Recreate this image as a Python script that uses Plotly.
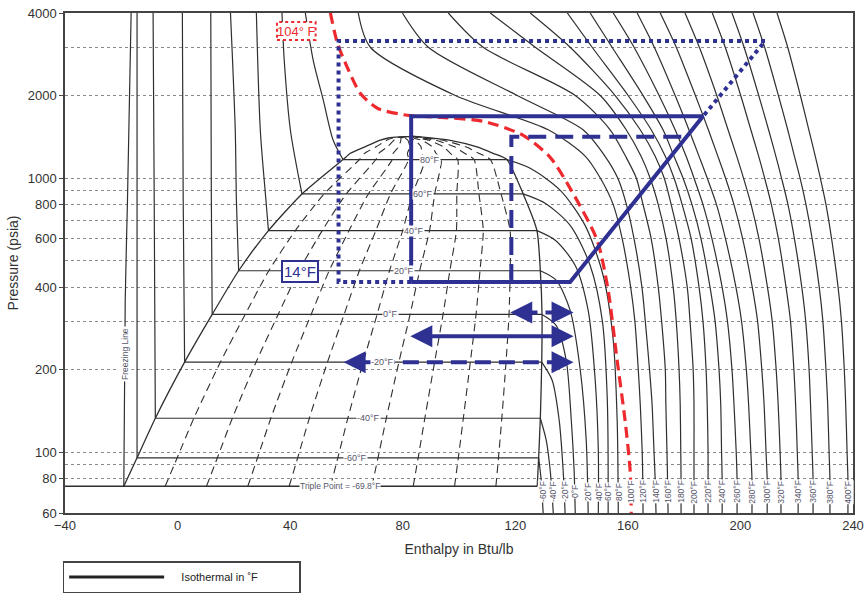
import numpy as np
import plotly.graph_objects as go

NAVY = "#2e3192"
RED = "#ee2a2f"
INK = "#2f2f2f"
TXT = "#55566a"

# Saturation dome: pressure (psia) with saturated-liquid / saturated-vapour enthalpy (Btu/lb)
sat_p = [75.1, 95.4, 133, 213, 318, 459, 643, 875, 1168, 1231, 1300, 1373, 1400, 1420]
sat_h_liq = [-19.1, -14.4, -7.9, 2.5, 12.3, 21.7, 32.3, 44.2, 58.8, 61.4, 66.6, 71.8, 74.9, 83.7]
sat_h_vap = [127.8, 128.3, 128.9, 129.4, 129.5, 128.9, 127.7, 122.8, 117.0, 112.1, 106.4, 96.9, 90.0, 83.7]

# Labels of the constant-temperature lines crossing the two-phase region
sat_line_text = ["Triple Point = -69.8°F", "-60°F", "-40°F", "-20°F", "0°F",
                 "20°F", "40°F", "60°F", "80°F"]
sat_line_text_h = [57.8, 63.2, 67.9, 72.7, 75.6, 80.5, 83.9, 87.2, 89.8]

# Constant-quality lines inside the dome
qualities = [0.1, 0.2, 0.3, 0.4, 0.5, 0.6, 0.7, 0.8, 0.9]

# Freezing line
freeze_h = [-19.1, -18.6, -17.8, -16.5]
freeze_p = [75.1, 358, 830, 4000]

# Compressed-liquid isotherms: (enthalpy, pressure) from the liquid line up to 4000 psia
liquid_iso = {
    -60: ([-14.4, -14.4], [95.4, 4000]),
    -40: ([-7.9, -8.3, -8.7], [133, 830, 4000]),
    -20: ([2.5, 2.0, 1.7], [213, 830, 4000]),
    0: ([12.3, 12.0, 11.8], [318, 830, 4000]),
    20: ([21.7, 20.9, 20.5, 18.8], [459, 830, 1494, 4000]),
    40: ([32.3, 31.4, 29.4, 28.0], [643, 830, 1494, 4000]),
    60: ([44.2, 40.1, 37.9, 37.1], [875, 1494, 2688, 4000]),
    80: ([58.8, 55.3, 51.8, 48.2, 45.4], [1168, 1373, 1921, 2688, 4000]),
}

# Superheated-vapour isotherms: from the vapour line down to 60 psia
vapour_iso = {
    -60: ([128.3, 129.2, 129.9], [95.4, 79, 60]),
    -40: ([128.9, 131.0, 132.4, 133.5], [133, 110.5, 85.9, 60]),
    -20: ([129.4, 133.1, 135.6, 137.0, 137.7], [213, 182.9, 130.7, 85.9, 60]),
    0: ([129.5, 134.5, 138.1, 139.9, 140.9, 141.3], [318, 290, 216, 130.7, 85.9, 60]),
    20: ([128.9, 134.5, 139.5, 143.1, 145.2, 145.9], [459, 424, 329, 199, 110.5, 60]),
    40: ([127.7, 134.2, 141.3, 145.9, 148.4, 149.5, 149.5], [643, 593, 480, 329, 183, 101.6, 60]),
    60: ([122.8, 130.6, 139.5, 146.6, 150.9, 152.7, 153.0], [875, 809, 672, 480, 303, 155, 60]),
    80: ([117.0, 125.3, 136.0, 144.8, 151.2, 154.8, 156.2, 156.6],
         [1168, 1085, 902, 672, 442, 256, 131, 60]),
}

# Supercritical isotherms: enthalpy at each of these pressure levels
grid_p = [4000, 3000, 2000, 1500, 1200, 1000, 800, 600, 400, 300, 200, 150, 100, 80, 60]
super_iso = {
    120: [64.2, 68.5, 98.7, 131.7, 144.9, 150.2, 154.8, 158.0, 161.0, 162.5, 163.7, 164.4, 165.1, 165.3, 165.4],
    140: [79.9, 89.1, 120.7, 144.1, 151.9, 156.4, 159.5, 162.2, 165.0, 166.2, 167.7, 168.6, 169.3, 169.7, 170.0],
    160: [96.2, 108.6, 141.3, 153.7, 159.2, 163.0, 165.4, 168.3, 170.8, 172.0, 173.3, 173.5, 173.9, 174.1, 174.3],
    180: [111.1, 127.1, 150.2, 159.4, 164.7, 167.9, 170.8, 173.6, 176.1, 177.2, 178.2, 178.6, 178.8, 178.9, 178.9],
    200: [125.3, 139.5, 155.5, 164.4, 169.7, 172.9, 175.4, 178.2, 181.1, 182.1, 183.2, 183.5, 183.5, 183.5, 183.5],
    220: [138.5, 147.3, 160.1, 168.3, 173.3, 176.4, 179.3, 182.5, 185.3, 186.7, 187.8, 188.2, 188.5, 188.5, 188.5],
    240: [146.6, 154.4, 165.4, 172.5, 176.4, 179.6, 182.8, 186.0, 189.2, 191.0, 192.4, 193.0, 193.3, 193.5, 193.5],
    260: [154.8, 162.2, 171.1, 176.8, 180.7, 183.5, 186.7, 189.9, 193.5, 195.4, 197.0, 197.7, 198.5, 198.8, 198.8],
    280: [163.3, 169.4, 176.8, 181.7, 185.3, 188.2, 191.5, 194.7, 198.4, 200.4, 202.1, 202.9, 203.7, 204.1, 204.1],
    300: [171.5, 177.2, 184.0, 188.6, 192.0, 194.7, 197.7, 200.8, 204.2, 206.1, 207.6, 208.4, 209.1, 209.5, 209.5],
    320: [180.3, 185.4, 191.6, 195.6, 198.7, 201.1, 203.8, 206.6, 209.6, 211.3, 212.7, 213.4, 214.1, 214.4, 214.4],
    340: [190.0, 194.6, 200.1, 203.7, 206.5, 208.6, 211.0, 213.5, 216.2, 217.8, 219.0, 219.6, 220.2, 220.5, 220.5],
    360: [197.0, 201.3, 206.5, 210.0, 212.6, 214.6, 216.9, 219.2, 221.8, 223.2, 224.4, 224.9, 225.5, 225.8, 225.8],
    380: [204.5, 208.6, 213.5, 216.8, 219.2, 221.2, 223.3, 225.5, 228.0, 229.3, 230.4, 231.0, 231.5, 231.8, 231.8],
    400: [213.0, 216.8, 221.3, 224.3, 226.6, 228.4, 230.4, 232.4, 234.7, 235.9, 236.9, 237.4, 237.9, 238.2, 238.2],
}

# Highlighted 104 °F isotherm
iso104_h = [54.3, 56.8, 60.3, 64.9, 71.0, 81.6, 93.3, 108.6, 122.8, 132.4, 139.9,
            149.1, 153.0, 156.2, 159.0, 160.8, 161.2]
iso104_p = [4000, 3101, 2535, 2038, 1797, 1694, 1666, 1611, 1432, 1190, 902,
            593, 390, 216, 131, 86, 60]

# Refrigeration cycles
cycle_solid_h = [83.0, 83.0, 186.7, 139.5, 83.0]
cycle_solid_p = [418, 1679, 1679, 418, 418]
cycle_dash_h = [118.6, 118.6, 180.9]
cycle_dash_p = [418, 1414, 1414]
cycle_dot_h = [83.0, 57.2, 57.2, 208.8, 186.7]
cycle_dot_p = [418, 418, 3162, 3162, 1679]

# Evaporator enthalpy-gain arrows
arrow_h_start = [118.2, 82.7, 59.0]
arrow_h_end = [140.7, 140.7, 140.7]
arrow_p = [323, 265, 213]
arrow_style = ["dash", "solid", "dash"]

# Temperatures written along the bottom of the chart
bottom_temps = [-60, -40, -20, 0, 20, 40, 60, 80, 100, 120, 140, 160, 180, 200,
                220, 240, 260, 280, 300, 320, 340, 360, 380, 400]

fig = go.Figure()


def iso_line(h, p):
    fig.add_trace(go.Scatter(x=h, y=p, mode="lines", hoverinfo="skip", showlegend=False,
                             line=dict(color=INK, width=1.2, shape="spline", smoothing=0.8)))


# triple-point line from the left frame to the vapour line
fig.add_trace(go.Scatter(x=[-40, sat_h_vap[0]], y=[sat_p[0], sat_p[0]], mode="lines",
                         hoverinfo="skip", showlegend=False, line=dict(color=INK, width=1.3)))
# two-phase isotherms
for i in range(1, 9):
    fig.add_trace(go.Scatter(x=[sat_h_liq[i], sat_h_vap[i]], y=[sat_p[i], sat_p[i]], mode="lines",
                             hoverinfo="skip", showlegend=False, line=dict(color=INK, width=1.2)))
# freezing line and single-phase isotherms
iso_line(freeze_h, freeze_p)
for t, (h, p) in liquid_iso.items():
    iso_line(h, p)
for t, (h, p) in vapour_iso.items():
    iso_line(h, p)
for t, h in super_iso.items():
    iso_line(h, grid_p)

# constant-quality lines
for q in qualities:
    qh = [hl + q * (hv - hl) for hl, hv in zip(sat_h_liq, sat_h_vap)]
    fig.add_trace(go.Scatter(x=qh, y=sat_p, mode="lines", hoverinfo="skip", showlegend=False,
                             line=dict(color=INK, width=1.1, dash="8px,5px", shape="spline",
                                       smoothing=0.6)))

# saturation dome
fig.add_trace(go.Scatter(x=sat_h_liq + sat_h_vap[::-1][1:], y=sat_p + sat_p[::-1][1:],
                         mode="lines", hoverinfo="skip", showlegend=False,
                         line=dict(color=INK, width=1.3, shape="spline", smoothing=0.6)))

# 104 °F isotherm
fig.add_trace(go.Scatter(x=iso104_h, y=iso104_p, mode="lines", hoverinfo="skip", showlegend=False,
                         line=dict(color=RED, width=3.2, dash="11px,6px", shape="spline",
                                   smoothing=0.7)))

# cycles
fig.add_trace(go.Scatter(x=cycle_dot_h, y=cycle_dot_p, mode="lines", hoverinfo="skip",
                         showlegend=False, line=dict(color=NAVY, width=4, dash="4px,4px")))
fig.add_trace(go.Scatter(x=cycle_dash_h, y=cycle_dash_p, mode="lines", hoverinfo="skip",
                         showlegend=False, line=dict(color=NAVY, width=4, dash="18px,9px")))
fig.add_trace(go.Scatter(x=cycle_solid_h, y=cycle_solid_p, mode="lines", hoverinfo="skip",
                         showlegend=False, line=dict(color=NAVY, width=4)))

# arrows
annotations = []
for hs, he, p, st in zip(arrow_h_start, arrow_h_end, arrow_p, arrow_style):
    fig.add_trace(go.Scatter(x=[hs + 4, he - 4], y=[p, p], mode="lines", hoverinfo="skip",
                             showlegend=False,
                             line=dict(color=NAVY, width=4,
                                       dash="16px,8px" if st == "dash" else "solid")))
    for tip, tail in ((he, he - 6), (hs, hs + 6)):
        annotations.append(dict(x=tip, y=np.log10(p), ax=tail, ay=np.log10(p), xref="x", yref="y",
                                axref="x", ayref="y", text="", showarrow=True, arrowhead=2,
                                arrowsize=1.1, arrowwidth=4, arrowcolor=NAVY, standoff=0))

# legend entry
fig.add_trace(go.Scatter(x=[None], y=[None], mode="lines",
                         name="\u00a0\u00a0\u00a0\u00a0Isothermal in \u02daF",
                         line=dict(color="#222222", width=3), showlegend=True))

# labels on the two-phase isotherms
for i, (txt, h) in enumerate(zip(sat_line_text, sat_line_text_h)):
    annotations.append(dict(x=h, y=np.log10(sat_p[i]), text=txt, showarrow=False,
                            font=dict(size=9 if i else 8.5, color=TXT), bgcolor="white",
                            borderpad=0))

# bottom temperature labels placed at each isotherm's 60 psia end
end_h = {t: v[0][-1] for t, v in vapour_iso.items()}
end_h[100] = iso104_h[-1]
end_h.update({t: v[-1] for t, v in super_iso.items()})
for t in bottom_temps:
    annotations.append(dict(x=end_h[t], y=np.log10(71.7), text=f"{t}°F", textangle=-90,
                            showarrow=False, font=dict(size=8.5, color=TXT), bgcolor="white",
                            borderpad=0))

annotations.append(dict(x=-18.9, y=np.log10(229), text="Freezing Line", textangle=-90,
                        showarrow=False, font=dict(size=8.5, color=TXT), bgcolor="white",
                        borderpad=1))
annotations.append(dict(x=43.6, y=np.log10(457), text="14°F", showarrow=False,
                        font=dict(size=15, color=NAVY), bgcolor="white", bordercolor=NAVY,
                        borderwidth=2, borderpad=1))
annotations.append(dict(x=0.2935, y=0.964, xref="paper", yref="paper", xanchor="center",
                        yanchor="middle", text="104° F", showarrow=False,
                        font=dict(size=13, color=RED)))

shapes = [dict(type="rect", xref="paper", yref="paper", x0=0.269, x1=0.318, y0=0.946, y1=0.982,
               line=dict(color=RED, width=2, dash="dot"), fillcolor="white", layer="above")]

fig.update_layout(
    width=864, height=593,
    margin=dict(l=65, r=11, t=13, b=80, autoexpand=False),
    paper_bgcolor="white", plot_bgcolor="white",
    font=dict(family="Liberation Sans, Arial, sans-serif", color="#333333"),
    annotations=annotations,
    shapes=shapes,
    showlegend=True,
    legend=dict(x=-0.003, y=-0.16, xanchor="left", yanchor="bottom", orientation="h",
                bordercolor="#444444", borderwidth=1.5, font=dict(size=11, color="#222222"),
                itemwidth=95, entrywidth=125, bgcolor="white"),
    xaxis=dict(range=[-40, 240], tickvals=[-40, 0, 40, 80, 120, 160, 200, 240], automargin=False,
               showgrid=False, zeroline=False, showline=True, linecolor="#444444", linewidth=1.5,
               mirror=True, ticks="", tickfont=dict(size=13, color="#333333"),
               title=dict(text="Enthalpy in Btu/lb", font=dict(size=14, color="#333333"),
                          standoff=12)),
    yaxis=dict(type="log", range=[np.log10(60), np.log10(4000)], automargin=False,
               tickvals=[60, 80, 100, 200, 400, 600, 800, 1000, 2000, 4000],
               ticktext=["60", "80", "100", "200", "400", "600", "800", "1000", "2000", "4000"],
               showgrid=True, gridcolor="#8a8a8a", gridwidth=1, griddash="dot",
               minor=dict(tickvals=[90, 300, 500, 700, 900, 3000], showgrid=True,
                          gridcolor="#8a8a8a", griddash="dot", ticks=""),
               zeroline=False, showline=True, linecolor="#444444", linewidth=1.5, mirror=True,
               ticks="outside", ticklen=4, tickcolor="#444444",
               tickfont=dict(size=13, color="#333333"),
               title=dict(text="Pressure (psia)", font=dict(size=14, color="#333333"),
                          standoff=6)),
)

fig.write_html("out.html")
